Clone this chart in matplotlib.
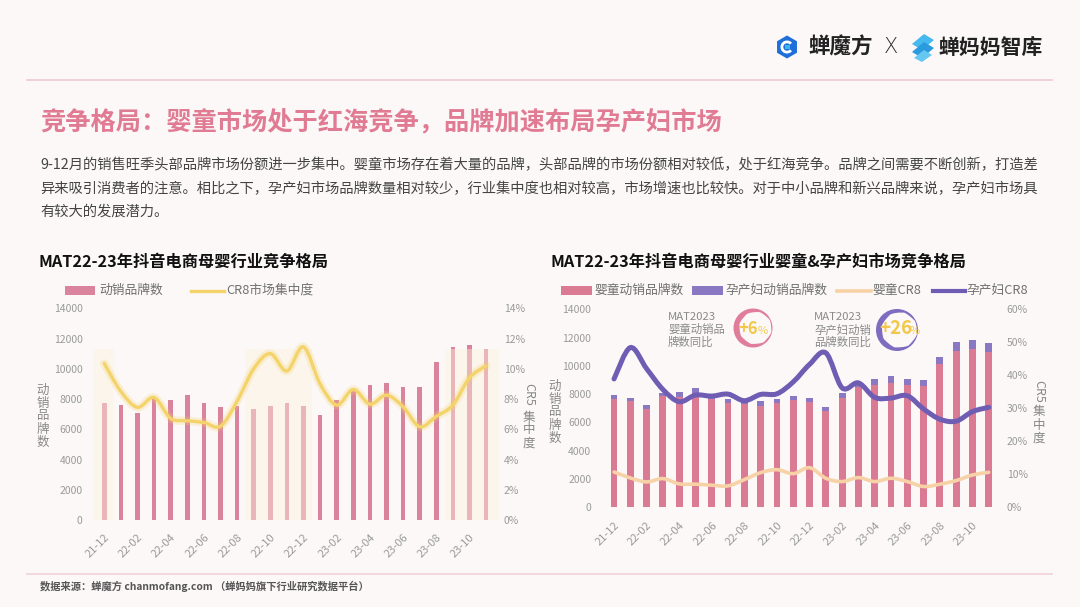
import matplotlib
matplotlib.use("Agg")
import matplotlib.pyplot as plt
from matplotlib.path import Path
from matplotlib.patches import PathPatch, Rectangle, Polygon, RegularPolygon, Wedge
import numpy as np

plt.rcParams['font.family'] = ['Noto Sans CJK SC', 'DejaVu Sans']

# ---------------- data ----------------
months = ['21-12', '22-01', '22-02', '22-03', '22-04', '22-05', '22-06', '22-07',
          '22-08', '22-09', '22-10', '22-11', '22-12', '23-01', '23-02', '23-03',
          '23-04', '23-05', '23-06', '23-07', '23-08', '23-09', '23-10', '23-11']

# left chart
brands_total = [7750, 7600, 7090, 8050, 7950, 8250, 7750, 7470, 7510, 7320, 7530, 7710,
                7540, 6950, 7920, 8590, 8920, 9070, 8820, 8780, 10420, 11420, 11550, 11310]
cr8_total = [10.35, 8.5, 7.45, 8.1, 6.72, 6.56, 6.45, 6.2, 7.85, 10.0, 11.0, 9.86,
             11.45, 9.0, 7.6, 8.63, 7.66, 8.26, 7.49, 6.17, 6.85, 7.6, 9.4, 10.2]
highlight_spans = [(-0.7, 0.6), (8.5, 12.5), (20.5, 23.8)]
highlight_top = 11300

# right chart
infant_brands = [7660, 7500, 6970, 7870, 7820, 8060, 7640, 7350, 7310, 7160, 7400, 7590,
                 7420, 6830, 7730, 8490, 8670, 8810, 8630, 8580, 10130, 11080, 11170, 10980]
maternal_brands = [260, 250, 290, 230, 330, 380, 210, 330, 280, 360, 280, 300,
                   290, 280, 370, 320, 420, 480, 420, 420, 520, 630, 660, 620]
infant_cr8 = [10.7, 8.9, 7.7, 8.7, 7.1, 7.0, 6.7, 6.5, 8.4, 10.5, 11.4, 10.2,
              12.0, 8.8, 7.8, 9.0, 7.8, 8.8, 7.8, 6.3, 7.0, 8.1, 9.8, 10.6]
maternal_cr8 = [38.9, 48.4, 42.0, 35.7, 32.0, 34.0, 33.7, 34.3, 32.3, 34.2, 34.4, 38.0,
                43.3, 46.8, 36.2, 37.7, 33.3, 33.1, 33.8, 29.8, 26.7, 26.1, 29.0, 30.3]

left_ticks = [0, 2000, 4000, 6000, 8000, 10000, 12000, 14000]
left_cr_ticks = [0, 2, 4, 6, 8, 10, 12, 14]
right_cr_ticks = [0, 10, 20, 30, 40, 50, 60]

# ---------------- colours ----------------
BG = '#fcf8f8'
PINK_L = '#d9849c'
PINK = '#db7a93'
PURPLE = '#8a78c2'
PURPLE_LINE = '#6e5db3'
YELLOW = '#f4d36a'
PEACH = '#f6d2a6'
GRAY = '#9a9a9a'
TITLE = '#e07b93'

W, H = 1080, 607
fig = plt.figure(figsize=(10.8, 6.07), dpi=100)
fig.patch.set_facecolor(BG)


def ax_rect(x0, x1, y_top, y_bot):
    return [x0 / W, 1 - y_bot / H, (x1 - x0) / W, (y_bot - y_top) / H]


def smooth_path(xs, ys):
    xs = np.asarray(xs, float)
    ys = np.asarray(ys, float)
    n = len(xs)
    verts = [(xs[0], ys[0])]
    codes = [Path.MOVETO]
    for i in range(n - 1):
        p0 = i - 1 if i > 0 else i
        p3 = i + 2 if i + 2 < n else i + 1
        c1 = (xs[i] + (xs[i + 1] - xs[p0]) / 6, ys[i] + (ys[i + 1] - ys[p0]) / 6)
        c2 = (xs[i + 1] - (xs[p3] - xs[i]) / 6, ys[i + 1] - (ys[p3] - ys[i]) / 6)
        verts += [c1, c2, (xs[i + 1], ys[i + 1])]
        codes += [Path.CURVE4] * 3
    return Path(verts, codes)


def style_axes(ax, ax2, ylab_ticks, rlab_ticks, rmax, lpad, rpad):
    x = np.arange(len(months))
    ax.set_xlim(-0.8, 23.9)
    ax.set_ylim(0, 14000)
    ax2.set_ylim(0, rmax)
    for a in (ax, ax2):
        for s in a.spines.values():
            s.set_visible(False)
        a.tick_params(length=0)
        a.patch.set_alpha(0)
    ax.set_yticks(ylab_ticks)
    ax.set_yticklabels([str(v) for v in ylab_ticks], fontsize=7.5, color=GRAY)
    ax.tick_params(axis='y', pad=lpad)
    ax2.set_yticks(rlab_ticks)
    ax2.set_yticklabels([f'{v}%' for v in rlab_ticks], fontsize=7.5, color=GRAY)
    ax2.tick_params(axis='y', pad=rpad)
    ax.set_xticks(x[::2])
    ax.set_xticklabels(months[::2], fontsize=8, color=GRAY, rotation=45,
                       ha='right', va='top', rotation_mode='anchor')
    ax.tick_params(axis='x', pad=9)


x = np.arange(len(months))

# ---------------- left chart ----------------
axL = fig.add_axes(ax_rect(91, 501, 308.3, 520), zorder=2)
axL2 = axL.twinx()
axL2.set_zorder(3)
axL.bar(x, brands_total, width=0.28, color=PINK_L, zorder=2)
for a, b in highlight_spans:
    axL.add_patch(Rectangle((a, 0), b - a, highlight_top, facecolor='#fef2dc',
                            edgecolor='none', alpha=0.45, zorder=3))
pth = smooth_path(x, cr8_total)
axL2.add_patch(PathPatch(pth, fill=False, edgecolor=YELLOW, lw=6, alpha=0.25,
                         capstyle='round', zorder=4))
axL2.add_patch(PathPatch(pth, fill=False, edgecolor=YELLOW, lw=2.4,
                         capstyle='round', zorder=5))
style_axes(axL, axL2, left_ticks, left_cr_ticks, 14, 6, 2)

# ---------------- right chart ----------------
axR = fig.add_axes(ax_rect(601, 1003.4, 309.3, 507.3), zorder=2)
axR2 = axR.twinx()
axR2.set_zorder(3)
axR.bar(x, infant_brands, width=0.42, color=PINK, zorder=2)
axR.bar(x, maternal_brands, bottom=infant_brands, width=0.42, color=PURPLE, zorder=2)
axR2.add_patch(PathPatch(smooth_path(x, infant_cr8), fill=False, edgecolor=PEACH,
                         lw=2.6, capstyle='round', zorder=4))
axR2.add_patch(PathPatch(smooth_path(x, maternal_cr8), fill=False, edgecolor=PURPLE_LINE,
                         lw=3.6, capstyle='round', zorder=5))
style_axes(axR, axR2, left_ticks, right_cr_ticks, 60, 7, 2.5)
axR.set_xlim(-0.8, 23.9)
axR2.set_xlim(-0.8, 23.9)

# ---------------- overlay (pixel coordinates) ----------------
ov = fig.add_axes([0, 0, 1, 1], zorder=10)
ov.set_xlim(0, W)
ov.set_ylim(H, 0)
ov.axis('off')
ov.patch.set_alpha(0)

# header lines
ov.plot([27, 1052], [79.5, 79.5], color='#f1c9d2', lw=1.2)
ov.plot([27, 1052], [573.5, 573.5], color='#f1d2d9', lw=1.2)

# logos
ov.add_patch(RegularPolygon((787, 47), 6, radius=11.5, orientation=0, facecolor='#1e6fd9',
                            edgecolor='none'))
ov.add_patch(Wedge((787, 47), 6.5, 40, 320, width=2.8, facecolor='white', edgecolor='none'))
ov.add_patch(Rectangle((785, 45), 5, 4, facecolor='#38b6f0', edgecolor='none'))
ov.text(808, 47, '蝉魔方', fontsize=15.5, color='#222222', va='center', ha='left',
        fontweight='bold')
ov.text(884, 47, 'X', fontsize=15, color='#333333', va='center', ha='left',
        family=['DejaVu Sans'], fontweight='light')
ov.add_patch(Polygon([[912, 44], [924, 34], [934, 40], [922, 50]], facecolor='#46b9ee',
                     edgecolor='none'))
ov.add_patch(Polygon([[912, 52], [924, 42], [934, 48], [922, 58]], facecolor='#2b9be0',
                     edgecolor='none'))
ov.add_patch(Polygon([[914, 58], [924, 50], [932, 55], [922, 62]], facecolor='#64c8f2',
                     edgecolor='none'))
ov.text(938, 47, '蝉妈妈智库', fontsize=15, color='#222222', va='center', ha='left',
        fontweight='bold')

# title and body
ov.text(40, 123, '竞争格局：婴童市场处于红海竞争，品牌加速布局孕产妇市场', fontsize=18.2,
        fontweight='bold', color=TITLE, va='center', ha='left')
body = ['9-12月的销售旺季头部品牌市场份额进一步集中。婴童市场存在着大量的品牌，头部品牌的市场份额相对较低，处于红海竞争。品牌之间需要不断创新，打造差',
        '异来吸引消费者的注意。相比之下，孕产妇市场品牌数量相对较少，行业集中度也相对较高，市场增速也比较快。对于中小品牌和新兴品牌来说，孕产妇市场具',
        '有较大的发展潜力。']
body_y = [165, 189, 212]
fig.canvas.draw()
renderer = fig.canvas.get_renderer()
for i, (line, yy) in enumerate(zip(body, body_y)):
    t = ov.text(40, yy, line, fontsize=10.3, color='#444444', va='center', ha='left')
    if i < 2:
        w = t.get_window_extent(renderer).width
        t.set_fontsize(10.3 * 998 / w)

# subtitles
ov.text(39, 262, 'MAT22-23年抖音电商母婴行业竞争格局', fontsize=11.7, fontweight='bold',
        color='#111111', va='center', ha='left')
ov.text(551, 262, 'MAT22-23年抖音电商母婴行业婴童&孕产妇市场竞争格局', fontsize=11.7,
        fontweight='bold', color='#111111', va='center', ha='left')

# legends
LEG = '#707070'
ov.add_patch(Rectangle((65, 286), 30, 9, facecolor=PINK_L, edgecolor='none'))
ov.text(99, 290.5, '动销品牌数', fontsize=9.2, color=LEG, va='center')
ov.plot([191, 224], [290.5, 290.5], color=YELLOW, lw=2.4)
ov.text(226, 290.5, 'CR8市场集中度', fontsize=9.2, color=LEG, va='center')

ov.add_patch(Rectangle((561, 286), 31, 9, facecolor=PINK, edgecolor='none'))
ov.text(594, 290.5, '婴童动销品牌数', fontsize=9.2, color=LEG, va='center')
ov.add_patch(Rectangle((692, 286), 31, 9, facecolor=PURPLE, edgecolor='none'))
ov.text(725, 290.5, '孕产妇动销品牌数', fontsize=9.2, color=LEG, va='center')
ov.plot([837, 871], [290.5, 290.5], color=PEACH, lw=2.6)
ov.text(872, 290.5, '婴童CR8', fontsize=9.2, color=LEG, va='center')
ov.plot([933, 965], [290.5, 290.5], color=PURPLE_LINE, lw=3)
ov.text(966, 290.5, '孕产妇CR8', fontsize=9.2, color=LEG, va='center')

# axis labels (stacked)
AXL = '#888888'
ov.text(43, 416, '\n'.join('动销品牌数'), fontsize=9, color=AXL, va='center', ha='center',
        linespacing=1.0)
ov.text(555, 412, '\n'.join('动销品牌数'), fontsize=9, color=AXL, va='center', ha='center',
        linespacing=1.0)
ov.text(529, 394, 'CR5', fontsize=9, color=AXL, va='center', ha='center', rotation=-90)
ov.text(529, 430, '\n'.join('集中度'), fontsize=9, color=AXL, va='center', ha='center',
        linespacing=1.0)
ov.text(1039, 391, 'CR5', fontsize=9, color=AXL, va='center', ha='center', rotation=-90)
ov.text(1039, 425, '\n'.join('集中度'), fontsize=9, color=AXL, va='center', ha='center',
        linespacing=1.0)


# annotations with crescents
def crescent(cx, cy, r, color, shift=2.4, thin=1.2):
    outer = Path.circle((cx, cy), r)
    ri = r - (shift + thin)
    inner = Path.circle((cx + shift, cy), ri)
    inner = Path(inner.vertices[::-1], inner.codes)
    comp = Path.make_compound_path(outer, inner)
    ov.add_patch(PathPatch(comp, facecolor=color, edgecolor='none'))


ANN = '#8a8a8a'
for tx, lines in [(668, ['MAT2023', '婴童动销品', '牌数同比']),
                  (814, ['MAT2023', '孕产妇动销', '品牌数同比'])]:
    for k, s in enumerate(lines):
        ov.text(tx, 317 + k * 12.6, s, fontsize=8.2, color=ANN, va='center', ha='left')

crescent(753, 328, 19.5, '#e07d9a')
crescent(897, 330, 21, '#7e6cc0')
ov.text(738, 329, '+6', fontsize=12, color='#f2c84b', va='center', ha='left',
        fontweight='bold')
ov.text(758, 331, '%', fontsize=8, color='#f2c84b', va='center', ha='left')
ov.text(879, 329, '+26', fontsize=13.5, color='#f2c84b', va='center', ha='left',
        fontweight='bold')
ov.text(910, 331, '%', fontsize=8, color='#f2c84b', va='center', ha='left')

# footer
ov.text(40, 586, '数据来源：蝉魔方 chanmofang.com （蝉妈妈旗下行业研究数据平台）', fontsize=7.4,
        color='#555555', va='center', ha='left', fontweight='bold')

fig.savefig('out.png', dpi=100, facecolor=BG)
